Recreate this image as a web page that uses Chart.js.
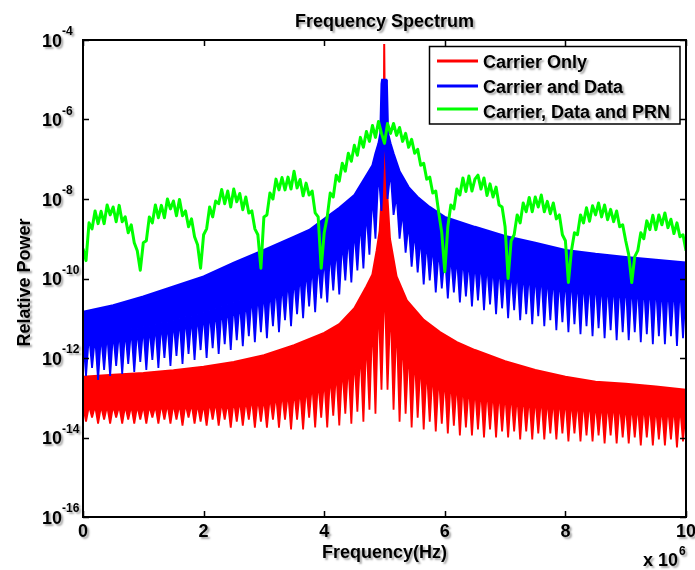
<!DOCTYPE html>
<html>
<head>
<meta charset="utf-8">
<script src="https://cdn.jsdelivr.net/npm/chart.js@4.4.1/dist/chart.umd.min.js"></script>
<style>
  html, body { margin: 0; padding: 0; background: #fff; }
  canvas { display: block; }
</style>
</head>
<body>
<canvas id="spectrum" width="695" height="570"></canvas>
<script>
// values are log10(relative power)
const FREQ_MHZ = [
  0, 0.05, 0.1, 0.15, 0.2, 0.25, 0.3, 0.35, 0.4, 0.45, 0.5, 0.55, 0.6, 0.65, 0.7, 0.75, 0.8, 0.85, 0.9, 0.95,
  1, 1.05, 1.1, 1.15, 1.2, 1.25, 1.3, 1.35, 1.4, 1.45, 1.5, 1.55, 1.6, 1.65, 1.7, 1.75, 1.8, 1.85, 1.9, 1.95,
  2, 2.05, 2.1, 2.15, 2.2, 2.25, 2.3, 2.35, 2.4, 2.45, 2.5, 2.55, 2.6, 2.65, 2.7, 2.75, 2.8, 2.85, 2.9, 2.95,
  3, 3.05, 3.1, 3.15, 3.2, 3.25, 3.3, 3.35, 3.4, 3.45, 3.5, 3.55, 3.6, 3.65, 3.7, 3.75, 3.8, 3.85, 3.9, 3.95,
  4, 4.05, 4.1, 4.15, 4.2, 4.25, 4.3, 4.35, 4.4, 4.45, 4.5, 4.55, 4.6, 4.65, 4.7, 4.75, 4.8, 4.85, 4.9, 4.95,
  5, 5.05, 5.1, 5.15, 5.2, 5.25, 5.3, 5.35, 5.4, 5.45, 5.5, 5.55, 5.6, 5.65, 5.7, 5.75, 5.8, 5.85, 5.9, 5.95,
  6, 6.05, 6.1, 6.15, 6.2, 6.25, 6.3, 6.35, 6.4, 6.45, 6.5, 6.55, 6.6, 6.65, 6.7, 6.75, 6.8, 6.85, 6.9, 6.95,
  7, 7.05, 7.1, 7.15, 7.2, 7.25, 7.3, 7.35, 7.4, 7.45, 7.5, 7.55, 7.6, 7.65, 7.7, 7.75, 7.8, 7.85, 7.9, 7.95,
  8, 8.05, 8.1, 8.15, 8.2, 8.25, 8.3, 8.35, 8.4, 8.45, 8.5, 8.55, 8.6, 8.65, 8.7, 8.75, 8.8, 8.85, 8.9, 8.95,
  9, 9.05, 9.1, 9.15, 9.2, 9.25, 9.3, 9.35, 9.4, 9.45, 9.5, 9.55, 9.6, 9.65, 9.7, 9.75, 9.8, 9.85, 9.9, 9.95,
  10
];

// Carrier, Data and PRN
const GREEN_LOG = [
  -9.25, -9.55, -8.60, -8.75, -8.30, -8.62, -8.31, -8.62, -8.15, -8.40, -8.20, -8.57, -8.16, -8.57, -8.45, -8.85, -8.65, -9.10, -9.30, -9.79,
  -9.10, -9.05, -8.45, -8.60, -8.15, -8.47, -8.16, -8.47, -8.00, -8.25, -8.05, -8.42, -8.01, -8.42, -8.30, -8.70, -8.50, -8.95, -9.15, -9.74,
  -8.90, -8.75, -8.20, -8.45, -8.05, -8.12, -7.76, -8.12, -7.80, -8.20, -7.75, -8.07, -7.86, -8.27, -7.95, -8.35, -8.30, -8.75, -8.90, -9.74,
  -8.45, -8.40, -7.85, -8.00, -7.50, -7.77, -7.46, -7.77, -7.45, -7.75, -7.30, -7.72, -7.51, -7.92, -7.60, -7.90, -7.80, -8.35, -8.45, -9.74,
  -8.85, -8.45, -7.85, -7.95, -7.40, -7.55, -7.10, -7.30, -6.85, -7.05, -6.65, -6.90, -6.45, -6.70, -6.30, -6.55, -6.15, -6.45, -6.05, -6.35,
  -6.60, -6.10, -6.35, -6.10, -6.40, -6.20, -6.55, -6.35, -6.70, -6.50, -6.85, -6.75, -7.15, -7.10, -7.50, -7.45, -7.85, -7.80, -8.35, -8.85,
  -9.83, -8.70, -8.15, -8.25, -7.75, -7.90, -7.47, -7.81, -7.42, -7.80, -7.50, -7.40, -7.75, -7.47, -7.91, -7.62, -7.95, -7.70, -8.15, -8.20,
  -8.70, -10.0, -9.05, -8.90, -8.40, -8.60, -8.10, -8.32, -7.96, -8.32, -7.95, -8.20, -7.90, -8.32, -8.06, -8.37, -8.10, -8.50, -8.40, -8.90,
  -9.05, -10.1, -9.30, -8.85, -8.90, -8.40, -8.60, -8.22, -8.56, -8.17, -8.40, -8.10, -8.45, -8.15, -8.52, -8.26, -8.57, -8.30, -8.70, -8.65,
  -9.05, -9.40, -10.1, -9.45, -9.30, -8.85, -9.00, -8.55, -8.77, -8.41, -8.77, -8.40, -8.65, -8.35, -8.72, -8.51, -8.87, -8.60, -8.95, -8.90,
  -9.30
];

// Carrier and Data: upper edge of the solid band
const BLUE_TOP_FREQ = [0, 0.5, 1, 1.5, 2, 2.5, 3, 3.5, 3.75, 4, 4.25, 4.5, 4.7, 4.8, 4.85, 4.9, 4.93, 4.95, 4.96, 5.03,
  5.04, 5.06, 5.1, 5.15, 5.25, 5.4, 5.55, 5.75, 6, 6.5, 7, 7.5, 8, 8.5, 9, 9.5, 10];
const BLUE_TOP_LOG = [-10.84, -10.67, -10.45, -10.2, -9.95, -9.6, -9.28, -8.95, -8.78, -8.5, -8.22, -7.9, -7.4, -7.15, -6.85, -6.6, -6.35, -5.1, -5.0, -5.0,
  -5.1, -6.35, -6.6, -6.85, -7.3, -7.7, -7.95, -8.2, -8.45, -8.7, -8.93, -9.1, -9.28, -9.38, -9.46, -9.53, -9.6];
// Carrier and Data: band floor / dip tips on FREQ_MHZ
const BLUE_DIPS_LOG = [
  -11.45, -12.45, -11.40, -12.25, -11.45, -12.55, -11.40, -12.30, -11.35, -12.45, -11.35, -12.20, -11.30, -12.40, -11.30, -12.15, -11.25, -12.35, -11.25, -12.10,
  -11.20, -12.30, -11.20, -12.05, -11.15, -12.25, -11.10, -12.00, -11.10, -12.20, -11.05, -11.95, -11.00, -12.15, -10.95, -11.90, -10.95, -12.05, -10.90, -11.80,
  -10.85, -12.00, -10.80, -11.75, -10.75, -11.90, -10.70, -11.65, -10.65, -11.80, -10.60, -11.55, -10.55, -11.70, -10.50, -11.45, -10.40, -11.60, -10.35, -11.35,
  -10.30, -11.50, -10.25, -11.20, -10.15, -11.35, -10.10, -11.05, -10.00, -11.20, -9.95, -10.90, -9.85, -11.00, -9.75, -10.70, -9.65, -10.85, -9.55, -10.50,
  -9.45, -10.60, -9.30, -10.30, -9.20, -10.40, -9.05, -10.05, -8.90, -10.10, -8.75, -9.80, -8.55, -9.75, -8.30, -9.40, -7.90, -9.00, -7.30, -8.30,
  -6.20, -8.00, -7.30, -8.40, -7.90, -9.00, -8.30, -9.35, -8.60, -9.70, -8.80, -9.85, -8.95, -10.15, -9.05, -10.05, -9.15, -10.35, -9.25, -10.25,
  -9.35, -10.50, -9.40, -10.35, -9.45, -10.60, -9.45, -10.45, -9.50, -10.70, -9.55, -10.55, -9.55, -10.80, -9.60, -10.65, -9.65, -10.90, -9.65, -10.75,
  -9.70, -11.00, -9.75, -10.80, -9.75, -11.05, -9.80, -10.90, -9.80, -11.15, -9.85, -10.95, -9.85, -11.20, -9.90, -11.05, -9.90, -11.30, -9.95, -11.10,
  -9.95, -11.35, -9.95, -11.15, -10.00, -11.40, -10.00, -11.20, -10.00, -11.45, -10.00, -11.25, -10.05, -11.50, -10.05, -11.30, -10.05, -11.55, -10.05, -11.35,
  -10.05, -11.55, -10.10, -11.35, -10.10, -11.60, -10.10, -11.40, -10.10, -11.65, -10.10, -11.45, -10.15, -11.65, -10.15, -11.45, -10.15, -11.70, -10.15, -11.50,
  -10.15
];

// Carrier Only: upper edge of the solid band
const RED_TOP_FREQ = [0, 0.5, 1, 1.5, 2, 2.5, 3, 3.5, 4, 4.25, 4.5, 4.7, 4.8, 4.87, 4.92, 4.95, 4.985, 4.995, 5.005, 5.015,
  5.05, 5.09, 5.2, 5.37, 5.65, 5.92, 6.2, 6.5, 7, 7.5, 8, 8.5, 9, 9.5, 10];
const RED_TOP_LOG = [-12.47, -12.42, -12.38, -12.31, -12.22, -12.1, -11.93, -11.68, -11.37, -11.15, -10.75, -10.2, -9.9, -9.3, -8.8, -8.0, -7.3, -4.1, -4.1, -7.3,
  -8.0, -9.0, -9.95, -10.55, -11.04, -11.35, -11.6, -11.8, -12.08, -12.3, -12.47, -12.6, -12.65, -12.72, -12.8];
// Carrier Only: band floor / dip tips on FREQ_MHZ
const RED_DIPS_LOG = [
  -13.20, -13.60, -13.20, -13.50, -13.20, -13.65, -13.20, -13.55, -13.20, -13.65, -13.20, -13.50, -13.20, -13.65, -13.20, -13.55, -13.20, -13.65, -13.20, -13.55,
  -13.20, -13.65, -13.20, -13.50, -13.20, -13.65, -13.15, -13.55, -13.15, -13.65, -13.15, -13.55, -13.15, -13.70, -13.15, -13.50, -13.15, -13.65, -13.15, -13.60,
  -13.15, -13.70, -13.10, -13.55, -13.10, -13.70, -13.10, -13.55, -13.10, -13.75, -13.05, -13.60, -13.05, -13.70, -13.05, -13.55, -13.00, -13.75, -13.00, -13.60,
  -13.00, -13.75, -12.95, -13.55, -12.90, -13.75, -12.85, -13.55, -12.85, -13.80, -12.80, -13.55, -12.75, -13.80, -12.70, -13.50, -12.60, -13.75, -12.55, -13.50,
  -12.50, -13.75, -12.40, -13.45, -12.30, -13.70, -12.20, -13.40, -12.10, -13.65, -11.95, -13.35, -11.75, -13.60, -11.45, -13.30, -11.00, -13.40, -10.50, -12.80,
  -10.00, -12.80, -10.60, -13.30, -11.00, -13.60, -11.40, -13.40, -11.70, -13.75, -11.90, -13.50, -12.05, -13.80, -12.20, -13.60, -12.30, -13.85, -12.40, -13.65,
  -12.45, -13.90, -12.50, -13.70, -12.55, -13.95, -12.60, -13.75, -12.65, -13.95, -12.70, -13.80, -12.75, -14.00, -12.75, -13.80, -12.80, -14.00, -12.80, -13.85,
  -12.85, -14.00, -12.85, -13.85, -12.90, -14.05, -12.90, -13.85, -12.95, -14.05, -12.95, -13.90, -12.95, -14.05, -13.00, -13.90, -13.00, -14.05, -13.00, -13.90,
  -13.00, -14.10, -13.05, -13.90, -13.05, -14.10, -13.05, -13.95, -13.05, -14.10, -13.10, -13.95, -13.10, -14.15, -13.10, -13.95, -13.10, -14.15, -13.10, -14.00,
  -13.15, -14.15, -13.15, -14.00, -13.15, -14.20, -13.15, -14.00, -13.15, -14.20, -13.20, -14.05, -13.20, -14.20, -13.20, -14.05, -13.20, -14.25, -13.20, -14.10,
  -13.20
];

const SERIES_NAMES = ['Carrier Only', 'Carrier and Data', 'Carrier, Data and PRN'];
const SERIES_COLORS = ['#ff0000', '#0000ff', '#00ff00'];
const X_TICKS = [0, 2, 4, 6, 8, 10];
const Y_TICK_EXP = [-4, -6, -8, -10, -12, -14, -16];

const FONT = '"Liberation Sans", Arial, Helvetica, sans-serif';

function toPoints(freqs, logs) {
  return freqs.map((f, i) => ({ x: f, y: Math.pow(10, logs[i]) }));
}

function withShadow(ctx) {
  ctx.shadowColor = 'rgba(0,0,0,0.35)';
  ctx.shadowOffsetX = 2;
  ctx.shadowOffsetY = 2;
  ctx.shadowBlur = 2;
}

const matlabFrame = {
  id: 'matlabFrame',
  afterDraw(chart) {
    const { ctx, chartArea: a, scales: { x, y } } = chart;
    ctx.save();

    // box + inward ticks
    ctx.strokeStyle = '#000';
    ctx.lineWidth = 1.5;
    ctx.beginPath();
    for (const v of X_TICKS) {
      const px = Math.round(x.getPixelForValue(v)) + 0.5;
      ctx.moveTo(px, a.bottom); ctx.lineTo(px, a.bottom - 6);
      ctx.moveTo(px, a.top); ctx.lineTo(px, a.top + 6);
    }
    for (const e of Y_TICK_EXP) {
      const py = Math.round(y.getPixelForValue(Math.pow(10, e))) + 0.5;
      ctx.moveTo(a.left, py); ctx.lineTo(a.left + 6, py);
      ctx.moveTo(a.right, py); ctx.lineTo(a.right - 6, py);
    }
    ctx.stroke();
    ctx.lineWidth = 2;
    ctx.strokeRect(a.left, a.top, a.right - a.left, a.bottom - a.top);

    // legend box
    const lx = 429.5, ly = 46.5, lw = 250.5, lh = 77.5;
    ctx.fillStyle = '#fff';
    ctx.fillRect(lx, ly, lw, lh);
    ctx.lineWidth = 1.5;
    ctx.strokeRect(lx, ly, lw, lh);
    const rowLineY = [61, 86, 109];
    const rowTextY = [68.3, 93.3, 118.3];
    SERIES_NAMES.forEach((name, i) => {
      ctx.strokeStyle = SERIES_COLORS[i];
      ctx.lineWidth = 3;
      ctx.beginPath();
      ctx.moveTo(437, rowLineY[i]);
      ctx.lineTo(478, rowLineY[i]);
      ctx.stroke();
    });

    // all text, with the soft grey drop shadow of the original export
    ctx.fillStyle = '#000';
    withShadow(ctx);
    ctx.font = 'bold 18px ' + FONT;
    ctx.textAlign = 'left';
    ctx.textBaseline = 'alphabetic';
    SERIES_NAMES.forEach((name, i) => ctx.fillText(name, 483, rowTextY[i]));

    ctx.textAlign = 'center';
    ctx.fillText('Frequency Spectrum', (a.left + a.right) / 2, 26.5);
    ctx.fillText('Frequency(Hz)', (a.left + a.right) / 2, 558);

    for (const v of X_TICKS) {
      ctx.fillText(String(v), x.getPixelForValue(v), 537);
    }

    for (const e of Y_TICK_EXP) {
      const py = y.getPixelForValue(Math.pow(10, e));
      ctx.font = 'bold 18px ' + FONT;
      ctx.textAlign = 'right';
      ctx.fillText('10', 62, py + 6.5);
      ctx.font = 'bold 12px ' + FONT;
      ctx.textAlign = 'left';
      ctx.fillText(String(e), 62, py - 5);
    }

    ctx.font = 'bold 18px ' + FONT;
    ctx.textAlign = 'right';
    ctx.fillText('x 10', 678, 566);
    ctx.font = 'bold 12px ' + FONT;
    ctx.textAlign = 'left';
    ctx.fillText('6', 679, 555);

    ctx.translate(30, (a.top + a.bottom) / 2 + 4);
    ctx.rotate(-Math.PI / 2);
    ctx.font = 'bold 18px ' + FONT;
    ctx.textAlign = 'center';
    ctx.fillText('Relative Power', 0, 0);

    ctx.restore();
  }
};

// index 0 is drawn last (on top): green, then blue, then red underneath
const datasets = [
  {
    label: SERIES_NAMES[2],
    data: toPoints(FREQ_MHZ, GREEN_LOG),
    borderColor: SERIES_COLORS[2],
    borderWidth: 3,
    borderJoinStyle: 'round',
    fill: false,
  },
  {
    label: SERIES_NAMES[1],
    data: toPoints(BLUE_TOP_FREQ, BLUE_TOP_LOG),
    borderColor: SERIES_COLORS[1],
    backgroundColor: SERIES_COLORS[1],
    borderWidth: 2,
    fill: '+1',
  },
  {
    label: SERIES_NAMES[1] + ' dips',
    data: toPoints(FREQ_MHZ, BLUE_DIPS_LOG),
    borderColor: SERIES_COLORS[1],
    borderWidth: 1.8,
    borderJoinStyle: 'bevel',
    fill: false,
  },
  {
    label: SERIES_NAMES[0],
    data: toPoints(RED_TOP_FREQ, RED_TOP_LOG),
    borderColor: SERIES_COLORS[0],
    backgroundColor: SERIES_COLORS[0],
    borderWidth: 2,
    fill: '+1',
  },
  {
    label: SERIES_NAMES[0] + ' dips',
    data: toPoints(FREQ_MHZ, RED_DIPS_LOG),
    borderColor: SERIES_COLORS[0],
    borderWidth: 1.8,
    borderJoinStyle: 'bevel',
    fill: false,
  },
];

new Chart(document.getElementById('spectrum'), {
  type: 'line',
  data: { datasets },
  options: {
    responsive: false,
    animation: false,
    events: [],
    layout: { padding: { top: 40, right: 9, left: 0, bottom: 0 } },
    elements: { point: { radius: 0 }, line: { tension: 0 } },
    plugins: {
      legend: { display: false },
      title: { display: false },
      tooltip: { enabled: false },
    },
    scales: {
      x: {
        type: 'linear',
        min: 0,
        max: 10,
        ticks: { display: false },
        grid: { display: false },
        border: { display: false },
        afterFit(scale) { scale.height = 53; },
      },
      y: {
        type: 'logarithmic',
        min: 1e-16,
        max: 1e-4,
        ticks: { display: false },
        grid: { display: false },
        border: { display: false },
        afterFit(scale) { scale.width = 83; },
      },
    },
  },
  plugins: [matlabFrame],
});
</script>
</body>
</html>
